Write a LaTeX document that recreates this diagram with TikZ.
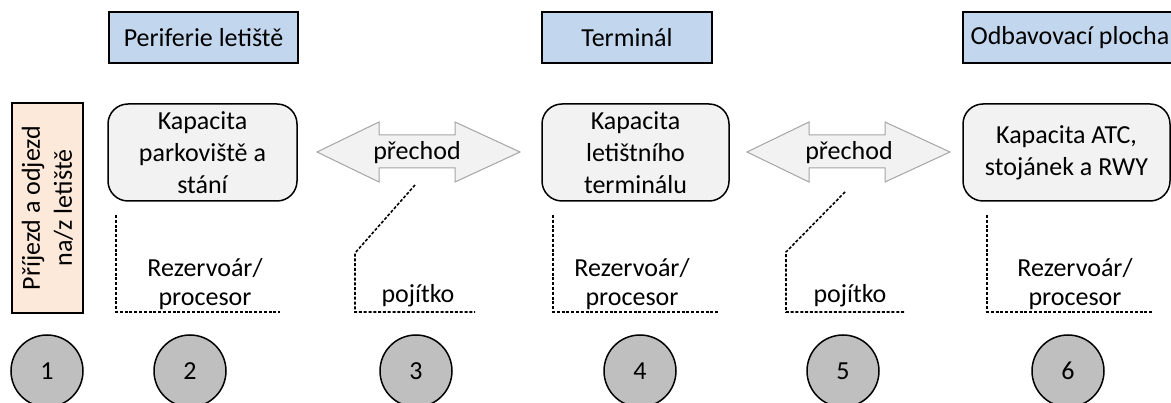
\documentclass[tikz,border=0pt]{standalone}
\usepackage{fontspec}
\setmainfont{Carlito}
\definecolor{headblue}{RGB}{194,214,238}
\definecolor{peach}{RGB}{253,233,217}
\definecolor{boxgray}{RGB}{242,242,242}
\definecolor{discgray}{RGB}{191,191,191}
\definecolor{arrowedge}{RGB}{165,165,165}
\begin{document}
\begin{tikzpicture}[x=1pt,y=-1pt,
  txt/.style={font=\fontsize{26}{32}\selectfont, align=center, inner sep=0pt},
  header/.style={txt, draw, line width=1.5pt, fill=headblue, minimum height=51pt},
  capbox/.style={txt, draw, line width=1.5pt, fill=boxgray, rounded corners=20pt, minimum height=97pt},
  disc/.style={txt, circle, draw, line width=1.5pt, fill=discgray, minimum size=72pt},
  guide/.style={line width=1.6pt, dash pattern=on 3pt off 1.8pt},
  flow/.style={fill=boxgray, draw=arrowedge, line width=1pt},
  note/.style={font=\fontsize{26}{29}\selectfont, align=center, inner sep=0pt}]
\useasboundingbox (0,0) rectangle (1171,403);

% column headings
\node[header, minimum width=189pt] (hper) at (203.5,37.5) {Periferie letiště};
\node[header, minimum width=170pt] (hterm) at (627,37.5) {Terminál};
\node[header, minimum width=214pt] (hramp) at (1070,37.5) {Odbavovací plocha};

% arrival / departure
\node[txt, draw, line width=1.5pt, fill=peach, minimum width=210pt, minimum height=71pt,
      rotate=90] (arr) at (47.5,208) {Příjezd a odjezd\\na/z letiště};

% capacity boxes
\node[capbox, minimum width=189pt] (park) at (202.5,152.5) {Kapacita\\parkoviště a\\stání};
\node[capbox, minimum width=187pt] (term) at (635.5,152.5) {Kapacita\\letištního\\terminálu};
\node[capbox, minimum width=207pt] (ramp) at (1066.5,152.5) {Kapacita ATC,\\stojánek a RWY};

% transitions
\draw[flow] (317,152) -- (379,122) -- (379,135) -- (455,135) -- (455,122) -- (520,152)
  -- (455,182) -- (455,168) -- (379,168) -- (379,182) -- cycle;
\node[txt] (tr1) at (417,153) {přechod};
\draw[flow] (747,152) -- (809,122) -- (809,135) -- (885,135) -- (885,122) -- (950,152)
  -- (885,182) -- (885,168) -- (809,168) -- (809,182) -- cycle;
\node[txt] (tr2) at (849,153) {přechod};

% reservoir / processor brackets
\draw[guide] (116,215) -- (116,312) -- (280,312);
\node[note] (res1) at (205,284) {Rezervoár/\\procesor};
\draw[guide] (553,215) -- (553,312) -- (718,312);
\node[note] (res2) at (632,284) {Rezervoár/\\procesor};
\draw[guide] (987,215) -- (987,312) -- (1152,312);
\node[note] (res3) at (1075,284) {Rezervoár/\\procesor};

% link brackets
\coordinate (l1a) at (415,185);
\coordinate (l1b) at (355,253);
\draw[guide] (l1a) -- (l1b) -- (355,312) -- (475,312);
\node[txt, anchor=base] (link1) at (418,303) {pojítko};
\coordinate (l2a) at (845,192);
\coordinate (l2b) at (786,252);
\draw[guide] (l2a) -- (l2b) -- (786,312) -- (905,312);
\node[txt, anchor=base] (link2) at (850,303) {pojítko};

% stage numbers
\node[disc] (n1) at (47,371) {1};
\node[disc] (n2) at (190,371) {2};
\node[disc] (n3) at (416,371) {3};
\node[disc] (n4) at (640,371) {4};
\node[disc] (n5) at (843,371) {5};
\node[disc] (n6) at (1068,371) {6};
\end{tikzpicture}
\end{document}
